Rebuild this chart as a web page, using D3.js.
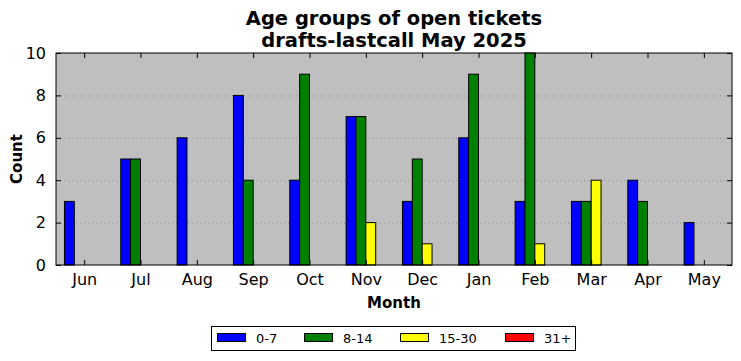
<!DOCTYPE html>
<html>
  <head>
    <meta charset="UTF-8" />
    <script src="https://d3js.org/d3.v7.min.js"></script>
    <style>
      body { margin: 0; background: #fff; }
      text { font-family: "DejaVu Sans", sans-serif; }
    </style>
  </head>
  <body>
    <svg width="741" height="361"></svg>

    <script>
      const months = ["Jun", "Jul", "Aug", "Sep", "Oct", "Nov", "Dec", "Jan", "Feb", "Mar", "Apr", "May"];
      const groups = ["0-7", "8-14", "15-30", "31+"];
      const colors = ["#0000ff", "#008000", "#ffff00", "#ff0000"];
      const age0to7 = [3, 5, 6, 8, 4, 7, 3, 6, 3, 3, 4, 2];
      const age8to14 = [0, 5, 0, 4, 9, 7, 5, 9, 10, 3, 3, 0];
      const age15to30 = [0, 0, 0, 0, 0, 2, 1, 0, 1, 4, 0, 0];
      const age31plus = [0, 0, 0, 0, 0, 0, 0, 0, 0, 0, 0, 0];
      const yTicks = [0, 2, 4, 6, 8, 10];

      const series = [age0to7, age8to14, age15to30, age31plus];

      const pl = 56, pr = 732, pt = 53, pb = 265;
      const svg = d3.select("svg");

      const x = d3.scaleLinear().domain([-0.5, months.length - 0.5]).range([pl, pr]);
      const y = d3.scaleLinear().domain([0, 10]).range([pb, pt]);
      const barW = 0.7 / groups.length;

      // background
      svg.append("rect")
        .attr("x", pl).attr("y", pt)
        .attr("width", pr - pl).attr("height", pb - pt)
        .attr("fill", "#bfbfbf");

      // grid
      svg.append("g").selectAll("line")
        .data(yTicks.slice(1, -1))
        .join("line")
        .attr("x1", pl).attr("x2", pr)
        .attr("y1", d => y(d) + 0.5).attr("y2", d => y(d) + 0.5)
        .attr("stroke", "#808080").attr("stroke-width", 0.8)
        .attr("stroke-dasharray", "1,3");

      // bars
      series.forEach((vals, s) => {
        svg.append("g").selectAll("rect")
          .data(vals)
          .join("rect")
          .attr("x", (d, i) => x(i - 0.35 + s * barW))
          .attr("width", x(barW) - x(0))
          .attr("y", d => y(d))
          .attr("height", d => y(0) - y(d))
          .attr("fill", colors[s])
          .attr("stroke", "#000")
          .attr("stroke-width", 1);
      });

      // axes (ticks inside on all sides)
      const ax = svg.append("g");
      const xb = d3.axisBottom(x).tickValues(d3.range(months.length))
        .tickFormat(i => months[i]).tickSizeInner(-5).tickSizeOuter(0).tickPadding(9);
      ax.append("g").attr("transform", `translate(0,${pb})`).call(xb);
      const xt = d3.axisTop(x).tickValues(d3.range(months.length))
        .tickFormat("").tickSizeInner(-5).tickSizeOuter(0);
      ax.append("g").attr("transform", `translate(0,${pt})`).call(xt);
      const yl = d3.axisLeft(y).tickValues(yTicks).tickSizeInner(-5).tickSizeOuter(0).tickPadding(10);
      ax.append("g").attr("transform", `translate(${pl},0)`).call(yl);
      const yr = d3.axisRight(y).tickValues(yTicks).tickFormat("").tickSizeInner(-5).tickSizeOuter(0);
      ax.append("g").attr("transform", `translate(${pr},0)`).call(yr);
      ax.selectAll(".domain").remove();
      ax.selectAll("text").attr("font-family", "DejaVu Sans").attr("fill", "#000").attr("font-size", 16);

      // frame
      svg.append("rect")
        .attr("x", pl).attr("y", pt)
        .attr("width", pr - pl).attr("height", pb - pt)
        .attr("fill", "none").attr("stroke", "#000").attr("stroke-width", 1);

      // titles
      svg.append("text").attr("x", 394).attr("y", 25).attr("text-anchor", "middle")
        .attr("font-size", 19.5).attr("font-weight", "bold").text("Age groups of open tickets");
      svg.append("text").attr("x", 394).attr("y", 47).attr("text-anchor", "middle")
        .attr("font-size", 19.5).attr("font-weight", "bold").text("drafts-lastcall May 2025");
      svg.append("text").attr("x", 394).attr("y", 308).attr("text-anchor", "middle")
        .attr("font-size", 15).attr("font-weight", "bold").text("Month");
      svg.append("text").attr("transform", "translate(22,159) rotate(-90)").attr("text-anchor", "middle")
        .attr("font-size", 15).attr("font-weight", "bold").text("Count");

      // legend
      const lg = svg.append("g");
      lg.append("rect").attr("x", 211.5).attr("y", 326.5).attr("width", 364).attr("height", 24)
        .attr("fill", "#fff").attr("stroke", "#000");
      const lx = [217, 304, 400, 505];
      groups.forEach((g, i) => {
        lg.append("rect").attr("x", lx[i] + 0.5).attr("y", 333.5).attr("width", 28).attr("height", 8)
          .attr("fill", colors[i]).attr("stroke", "#000");
        lg.append("text").attr("x", lx[i] + 39).attr("y", 343).attr("font-size", 13).text(g);
      });
    </script>
  </body>
</html>
